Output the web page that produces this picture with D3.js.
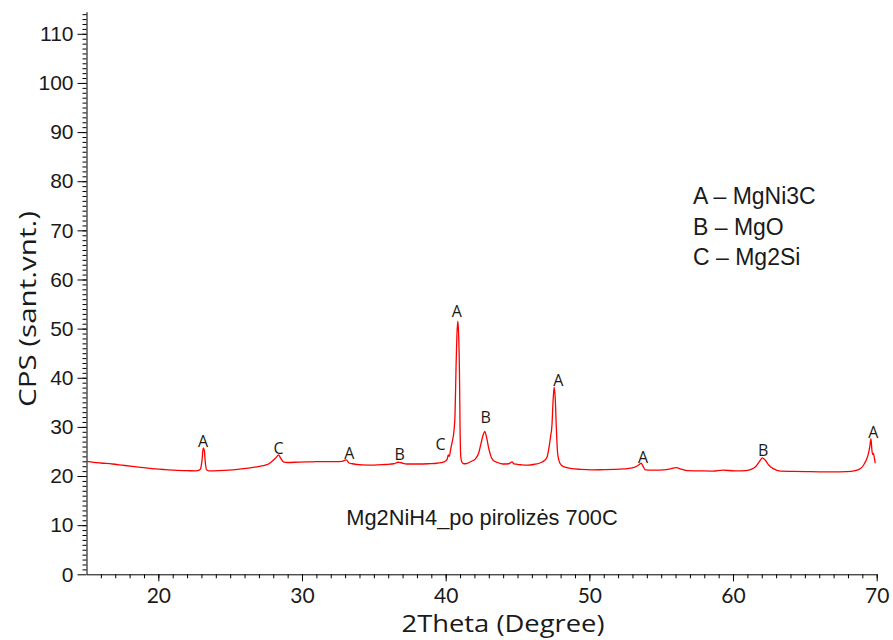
<!DOCTYPE html>
<html>
<head>
<meta charset="utf-8">
<script src="https://cdn.jsdelivr.net/npm/d3@7"></script>
<style>
  html, body { margin: 0; padding: 0; background: #fff; }
  svg { display: block; }
</style>
</head>
<body>
<svg id="chart" width="893" height="640"></svg>
<script>
// ---- data ----
const twoTheta = [
  15.0, 15.5, 16.0, 16.8, 17.5, 18.2, 19.0, 19.8, 20.5, 21.3, 22.0, 22.6,
  22.85, 22.95, 23.05, 23.12, 23.2, 23.27, 23.35, 23.5, 24.2, 24.9, 25.5, 26.1,
  26.7, 27.3, 27.7, 28.0, 28.2, 28.37, 28.5, 28.7, 29.0, 29.8, 30.7, 31.5,
  32.3, 32.8, 33.0, 33.1, 33.25, 33.5, 34.2, 35.0, 35.8, 36.4, 36.7, 36.9,
  37.3, 38.0, 38.8, 39.4, 39.9, 40.1, 40.18, 40.25, 40.35, 40.45, 40.55, 40.65,
  40.72, 40.78, 40.84, 40.9, 40.96, 41.0, 41.05, 41.12, 41.25, 41.5, 41.8, 42.1,
  42.3, 42.45, 42.6, 42.72, 42.85, 43.0, 43.15, 43.3, 43.6, 44.0, 44.4, 44.62,
  44.75, 45.2, 45.7, 46.2, 46.6, 46.85, 47.05, 47.2, 47.3, 47.4, 47.47, 47.55,
  47.63, 47.7, 47.78, 47.85, 47.95, 48.2, 48.7, 49.4, 50.2, 51.0, 51.7, 52.4,
  52.9, 53.3, 53.5, 53.6, 53.75, 53.9, 54.5, 55.2, 55.7, 56.05, 56.4, 56.8,
  57.6, 58.6, 59.3, 60.1, 60.9, 61.3, 61.6, 61.85, 62.05, 62.25, 62.5, 62.8,
  63.3, 64.2, 65.1, 66.0, 66.9, 67.9, 68.5, 68.9, 69.1, 69.25, 69.4, 69.52,
  69.6, 69.66, 69.71, 69.77, 69.83, 69.9
];
const cps = [
  23.0, 22.8, 22.65, 22.45, 22.2, 21.95, 21.7, 21.45, 21.3, 21.15, 21.1, 21.05,
  21.2, 21.6, 23.5, 25.7, 25.2, 22.8, 21.3, 21.05, 21.1, 21.2, 21.35, 21.55,
  21.8, 22.1, 22.5, 23.2, 23.8, 24.3, 23.7, 22.9, 22.75, 22.85, 22.9, 22.95,
  22.95, 23.0, 23.25, 23.3, 22.7, 22.5, 22.25, 22.2, 22.35, 22.5, 22.8, 22.7,
  22.45, 22.45, 22.5, 22.6, 22.9, 23.4, 24.3, 24.0, 25.5, 26.9, 28.5, 32.5,
  42.0, 48.5, 51.5, 49.0, 41.0, 30.0, 24.0, 22.9, 22.5, 22.6, 23.0, 23.6,
  24.7, 26.5, 28.3, 29.1, 27.8, 25.6, 24.0, 23.2, 22.75, 22.45, 22.5, 22.9,
  22.45, 22.3, 22.2, 22.4, 22.7, 23.1, 23.8, 26.0, 28.0, 30.5, 35.0, 38.1,
  35.5, 30.0, 25.0, 23.6, 22.6, 21.9, 21.55, 21.35, 21.25, 21.3, 21.35, 21.45,
  21.6, 22.0, 22.4, 22.6, 21.9, 21.25, 21.2, 21.25, 21.5, 21.7, 21.4, 21.1,
  21.05, 21.0, 21.2, 21.05, 21.1, 21.4, 22.0, 23.0, 23.7, 23.2, 22.2, 21.5,
  21.0, 20.95, 20.9, 20.85, 20.85, 20.9, 21.1, 21.6, 22.3, 23.1, 24.3, 26.0,
  27.6, 25.5, 24.4, 24.6, 23.8, 22.6
];

// peak annotations (letter, 2theta position, CPS level of the letter baseline)
const peakLetters = ["A", "C", "A", "B", "C", "A", "B", "A", "A", "B", "A"];
const peakPos     = [23.12, 28.37, 33.3, 36.8, 39.65, 40.77, 42.79, 47.84, 53.73, 62.1, 69.76];
const peakLabelY  = [26.0, 24.5, 23.5, 23.3, 25.3, 52.4, 30.8, 38.3, 22.7, 24.1, 27.7];

const legendLines = ["A \u2013 MgNi3C", "B \u2013 MgO", "C \u2013 Mg2Si"];
const sampleName = "Mg2NiH4_po pirolizės 700C";

const xMajorTicks = [20, 30, 40, 50, 60, 70];
const yMajorTicks = [0, 10, 20, 30, 40, 50, 60, 70, 80, 90, 100, 110];

// ---- drawing ----
const svg = d3.select("#chart");
svg.append("rect").attr("width", 893).attr("height", 640).attr("fill", "#fff");

const x = d3.scaleLinear().domain([15, 70]).range([86.5, 876.7]);
const y = d3.scaleLinear().domain([0, 114.5]).range([574.3, 11.7]);

const x0 = x(15), y0 = y(0);
const textCol = "#1a1a1a";

// minor ticks
svg.append("g")
  .attr("transform", `translate(0,${y0})`)
  .call(d3.axisBottom(x).tickValues(d3.range(16, 71, 1)).tickSize(4).tickFormat(""))
  .call(g => g.select(".domain").remove());
svg.append("g")
  .attr("transform", `translate(${x0},0)`)
  .call(d3.axisLeft(y).tickValues(d3.range(1, 115, 1)).tickSize(4).tickFormat(""))
  .call(g => g.select(".domain").remove());

// major axes
const xAxis = svg.append("g")
  .attr("transform", `translate(0,${y0})`)
  .call(d3.axisBottom(x).tickValues(xMajorTicks).tickSize(7).tickSizeOuter(0).tickPadding(7).tickFormat(d3.format("d")));
xAxis.selectAll("text")
  .attr("font-family", "Lato, 'Open Sans', sans-serif")
  .attr("font-size", 21)
  .attr("fill", textCol);

const yAxis = svg.append("g")
  .attr("transform", `translate(${x0},0)`)
  .call(d3.axisLeft(y).tickValues(yMajorTicks).tickSize(9).tickSizeOuter(0).tickPadding(4).tickFormat(d3.format("d")));
yAxis.selectAll("text")
  .attr("font-family", "'Liberation Sans', Arial, sans-serif")
  .attr("font-size", 21)
  .attr("fill", textCol);

svg.selectAll(".tick line").attr("stroke", "#000");
svg.selectAll(".domain").attr("stroke", "#000");

// axis titles
svg.append("text")
  .attr("x", 503).attr("y", 632)
  .attr("text-anchor", "middle")
  .attr("font-family", "'Open Sans', Lato, sans-serif")
  .attr("font-size", 23)
  .attr("textLength", 203)
  .attr("lengthAdjust", "spacingAndGlyphs")
  .attr("fill", textCol)
  .text("2Theta (Degree)");

svg.append("text")
  .attr("transform", "translate(36,309) rotate(-90)")
  .attr("text-anchor", "middle")
  .attr("font-family", "'Open Sans', Lato, sans-serif")
  .attr("font-size", 24)
  .attr("textLength", 196)
  .attr("lengthAdjust", "spacingAndGlyphs")
  .attr("fill", textCol)
  .text("CPS (sant.vnt.)");

// pattern line
const pts = twoTheta.map((t, i) => [t, cps[i]]);
const line = d3.line().x(d => x(d[0])).y(d => y(d[1])).curve(d3.curveMonotoneX);
svg.append("path")
  .datum(pts)
  .attr("fill", "none")
  .attr("stroke", "#ff0000")
  .attr("stroke-width", 1.3)
  .attr("stroke-linejoin", "round")
  .attr("d", line);

// peak letters
svg.append("g").selectAll("text")
  .data(peakLetters)
  .join("text")
  .attr("x", (d, i) => x(peakPos[i]))
  .attr("y", (d, i) => y(peakLabelY[i]))
  .attr("text-anchor", "middle")
  .attr("font-family", "'Open Sans', Lato, sans-serif")
  .attr("font-size", 16)
  .attr("fill", textCol)
  .text(d => d);

// legend text
const legendBase = [203.5, 234.5, 264.5];
svg.append("g").selectAll("text")
  .data(legendLines)
  .join("text")
  .attr("x", 693)
  .attr("y", (d, i) => legendBase[i])
  .attr("font-family", "'Liberation Sans', Arial, sans-serif")
  .attr("font-size", 23)
  .attr("fill", textCol)
  .text(d => d);

// sample name
svg.append("text")
  .attr("x", 482).attr("y", 525)
  .attr("text-anchor", "middle")
  .attr("font-family", "'Liberation Sans', Arial, sans-serif")
  .attr("font-size", 21.8)
  .attr("fill", textCol)
  .text(sampleName);
</script>
</body>
</html>
